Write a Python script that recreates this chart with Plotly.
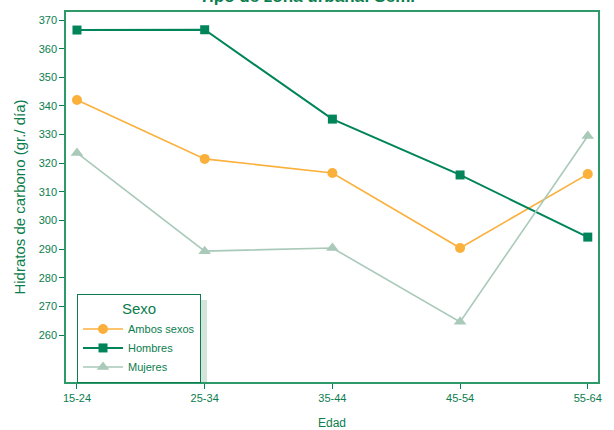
import plotly.graph_objects as go

categories = ["15-24", "25-34", "35-44", "45-54", "55-64"]
ambos = [342.1, 321.5, 316.6, 290.4, 316.2]
hombres = [366.5, 366.6, 335.4, 315.9, 294.2]
mujeres = [323.6, 289.3, 290.4, 264.6, 329.5]
y_ticks = list(range(260, 371, 10))

GREEN = "#0b7d4e"
DARK = "#00845a"
ORANGE = "#fbb03b"
LIGHT = "#a9c9b9"
FONT = "Liberation Sans, Arial, sans-serif"

fig = go.Figure()
fig.add_trace(go.Scatter(x=list(range(5)), y=ambos, name="Ambos sexos", mode="lines+markers",
                         line=dict(color=ORANGE, width=1.6), marker=dict(symbol="circle", size=10, color=ORANGE)))
fig.add_trace(go.Scatter(x=list(range(5)), y=hombres, name="Hombres", mode="lines+markers",
                         line=dict(color=DARK, width=2), marker=dict(symbol="square", size=9, color=DARK)))
fig.add_trace(go.Scatter(x=list(range(5)), y=mujeres, name="Mujeres", mode="lines+markers",
                         line=dict(color=LIGHT, width=1.6), marker=dict(symbol="triangle-up", size=11, color=LIGHT)))

fig.update_layout(
    width=614, height=430,
    margin=dict(l=66, r=16, t=12, b=48, autoexpand=False),
    plot_bgcolor="white", paper_bgcolor="white",
    font=dict(family=FONT, color=GREEN, size=11),
    showlegend=True,
    legend=dict(x=0.0207, y=0.238, xanchor="left", yanchor="top",
                bordercolor=GREEN, borderwidth=1, bgcolor="white",
                title=dict(text="Sexo", side="top center", font=dict(size=15, color=GREEN)),
                font=dict(size=11, color=GREEN), itemwidth=40, tracegroupgap=0),
    xaxis=dict(range=[-0.086, 4.08], tickvals=list(range(5)), ticktext=categories, automargin=False,
               showgrid=False, zeroline=False, showline=True, linecolor="#2e9a6a", linewidth=1.5,
               mirror=True, ticks="outside", tickcolor=GREEN, ticklen=5,
               tickfont=dict(size=11, color=GREEN),
               title=dict(text="Edad", font=dict(size=12, color=GREEN), standoff=18)),
    yaxis=dict(range=[243.6, 372.8], tickvals=y_ticks, showgrid=False, zeroline=False, automargin=False,
               showline=True, linecolor="#2e9a6a", linewidth=1.5, mirror=True,
               ticks="outside", tickcolor=GREEN, ticklen=5,
               tickfont=dict(size=11, color=GREEN),
               title=dict(text="Hidratos de carbono (gr./ día)", font=dict(size=15, color=GREEN), standoff=9)),
    shapes=[dict(type="rect", xref="paper", yref="paper", x0=(83 - 66) / 532, x1=(207 - 66) / 532,
                 y0=(382 - 382) / 370, y1=(382 - 300) / 370, fillcolor="#d3e5da", line=dict(width=0), layer="below")],
    annotations=[dict(text="<b>Tipo de zona urbana: Semi</b>", xref="paper", yref="paper",
                      x=(307 - 66) / 532, y=(382 - 8) / 370, xanchor="center", yanchor="bottom",
                      showarrow=False, font=dict(size=17, color=GREEN))],
)

fig.write_html("out.html", config={"displayModeBar": False},
               post_script="document.body.style.margin='0';document.body.style.overflow='hidden';")
